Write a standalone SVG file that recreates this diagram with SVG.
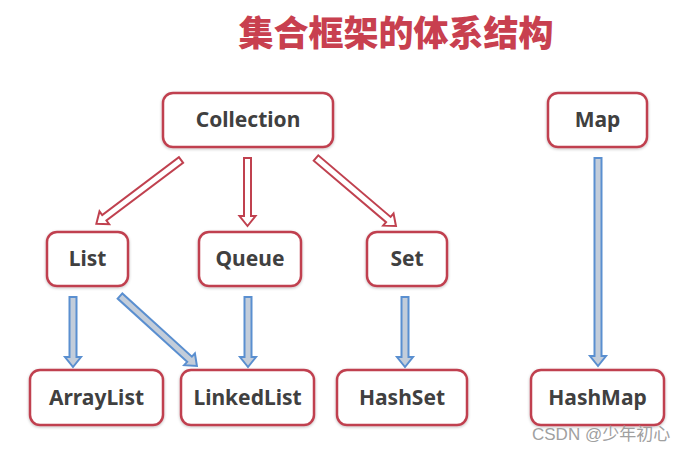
<svg xmlns="http://www.w3.org/2000/svg" width="684" height="451" viewBox="0 0 684 451">
<defs>
<filter id="sh" x="-10%" y="-10%" width="120%" height="130%">
<feGaussianBlur in="SourceAlpha" stdDeviation="1.5"/>
<feOffset dx="0" dy="1" result="b"/>
<feComponentTransfer><feFuncA type="linear" slope="0.25"/></feComponentTransfer>
<feMerge><feMergeNode/><feMergeNode in="SourceGraphic"/></feMerge>
</filter>
</defs>
<style>
.box{fill:#fff;stroke:#c0414f;stroke-width:2.5;filter:url(#sh)}
.lbl{font-family:"Noto Sans","Open Sans","DejaVu Sans",sans-serif;font-weight:bold;font-size:21px;fill:#404040;text-anchor:middle}
.red{fill:#fff;stroke:#c0414f;stroke-width:2;stroke-linejoin:miter}
.blue{fill:#c3cdda;stroke:#5a8fd0;stroke-width:2;stroke-linejoin:miter}
.title{font-family:"Noto Sans CJK SC","Noto Sans",sans-serif;font-weight:900;font-size:35px;fill:#c8404f;text-anchor:middle}
.wm{font-family:"Liberation Sans","Noto Sans CJK SC",sans-serif;font-size:17px;fill:#a0a0a0}
</style>
<rect width="684" height="451" fill="#fff"/>
<text class="title" x="396" y="46">集合框架的体系结构</text>

<g id="connectors">
<polygon class="red" transform="translate(181,160) rotate(53)" points="-3.5,0 3.5,0 3.5,96 8,96 0,106 -8,96 -3.5,96"/>
<polygon class="red" transform="translate(247.5,158) rotate(0)" points="-3.5,0 3.5,0 3.5,58 8,58 0,68 -8,58 -3.5,58"/>
<polygon class="red" transform="translate(316,158) rotate(-49.6)" points="-3.5,0 3.5,0 3.5,95 8,95 0,105 -8,95 -3.5,95"/>
<polygon class="blue" transform="translate(73,297)" points="-3.5,0 3.5,0 3.5,60 8,60 0,70 -8,60 -3.5,60"/>
<polygon class="blue" transform="translate(120,296) rotate(-47.7)" points="-3.5,0 3.5,0 3.5,94 8,94 0,104 -8,94 -3.5,94"/>
<polygon class="blue" transform="translate(248,297)" points="-3.5,0 3.5,0 3.5,60 8,60 0,70 -8,60 -3.5,60"/>
<polygon class="blue" transform="translate(405,297)" points="-3.5,0 3.5,0 3.5,60 8,60 0,70 -8,60 -3.5,60"/>
<polygon class="blue" transform="translate(598,158)" points="-3.5,0 3.5,0 3.5,198 8,198 0,208 -8,198 -3.5,198"/>
</g>

<g id="collection"><rect class="box" x="163" y="93" width="170" height="54" rx="10"/><text class="lbl" x="248" y="127">Collection</text></g>
<g id="map"><rect class="box" x="548" y="93" width="99" height="54" rx="10"/><text class="lbl" x="597.5" y="127">Map</text></g>
<g id="list"><rect class="box" x="47" y="232" width="81" height="54" rx="10"/><text class="lbl" x="87.5" y="266">List</text></g>
<g id="queue"><rect class="box" x="199" y="232" width="102" height="54" rx="10"/><text class="lbl" x="250" y="266">Queue</text></g>
<g id="set"><rect class="box" x="367" y="232" width="80" height="54" rx="10"/><text class="lbl" x="407" y="266">Set</text></g>
<g id="arraylist"><rect class="box" x="30" y="370" width="133" height="55" rx="10"/><text class="lbl" x="96.5" y="405">ArrayList</text></g>
<g id="linkedlist"><rect class="box" x="181" y="370" width="133" height="55" rx="10"/><text class="lbl" x="247.5" y="405">LinkedList</text></g>
<g id="hashset"><rect class="box" x="337" y="370" width="130" height="55" rx="10"/><text class="lbl" x="402" y="405">HashSet</text></g>
<g id="hashmap"><rect class="box" x="531" y="370" width="133" height="55" rx="10"/><text class="lbl" x="597.5" y="405">HashMap</text></g>

<text class="wm" x="532" y="440">CSDN @少年初心</text>
</svg>
